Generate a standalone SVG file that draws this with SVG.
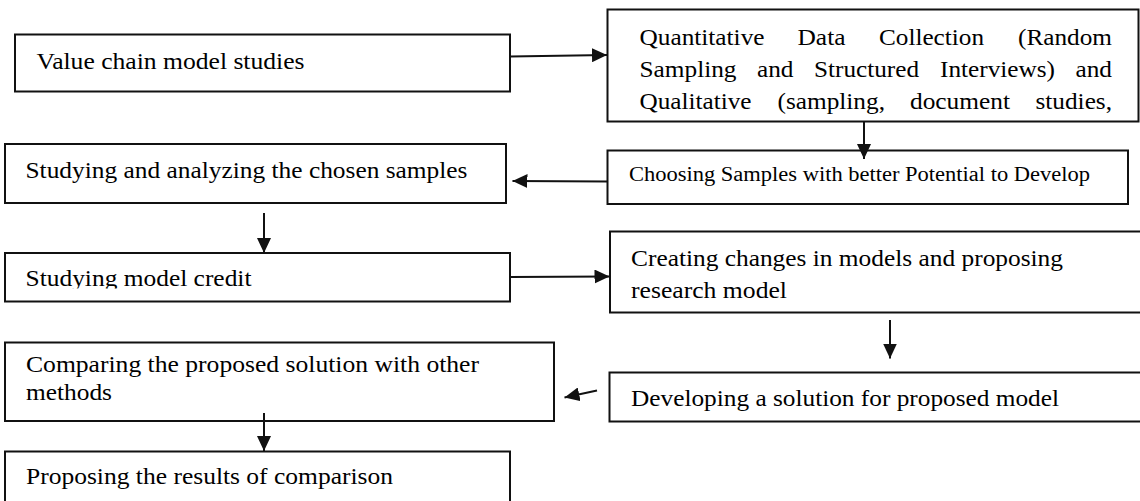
<svg xmlns="http://www.w3.org/2000/svg" width="1140" height="501" viewBox="0 0 1140 501">
<style>
.box{fill:#fff;stroke:#111;stroke-width:2}
.t{font-family:"Liberation Serif","Times New Roman",serif;font-size:23px;fill:#000}
.ts{font-family:"Liberation Serif","Times New Roman",serif;font-size:20px;fill:#000}
.c{stroke:#111;stroke-width:2;fill:none;marker-end:url(#ah)}
</style>
<defs>
<marker id="ah" markerUnits="userSpaceOnUse" markerWidth="16" markerHeight="14" refX="15" refY="7" orient="auto">
<path d="M0,0 L15,7 L0,14 z" fill="#111"/>
</marker>
<clipPath id="clip3"><rect x="0" y="253" width="520" height="35.5"/></clipPath>
</defs>
<rect width="1140" height="501" fill="#fff"/>

<g id="n1">
<rect class="box" x="15" y="34.5" width="495" height="57"/>
<text class="t" x="36.5" y="68.5" textLength="268" lengthAdjust="spacingAndGlyphs">Value chain model studies</text>
</g>

<g id="n2">
<rect class="box" x="607.5" y="9.5" width="531" height="112"/>
<text class="t" y="45">
<tspan x="639.5" textLength="125" lengthAdjust="spacingAndGlyphs">Quantitative</tspan>
<tspan x="797.5" textLength="48" lengthAdjust="spacingAndGlyphs">Data</tspan>
<tspan x="879" textLength="105" lengthAdjust="spacingAndGlyphs">Collection</tspan>
<tspan x="1018" textLength="94" lengthAdjust="spacingAndGlyphs">(Random</tspan>
</text>
<text class="t" y="77">
<tspan x="639.5" textLength="97" lengthAdjust="spacingAndGlyphs">Sampling</tspan>
<tspan x="757" textLength="36.5" lengthAdjust="spacingAndGlyphs">and</tspan>
<tspan x="814" textLength="105" lengthAdjust="spacingAndGlyphs">Structured</tspan>
<tspan x="940" textLength="115" lengthAdjust="spacingAndGlyphs">Interviews)</tspan>
<tspan x="1075.5" textLength="36.5" lengthAdjust="spacingAndGlyphs">and</tspan>
</text>
<text class="t" y="109">
<tspan x="639.5" textLength="112" lengthAdjust="spacingAndGlyphs">Qualitative</tspan>
<tspan x="777.5" textLength="107.5" lengthAdjust="spacingAndGlyphs">(sampling,</tspan>
<tspan x="910" textLength="100" lengthAdjust="spacingAndGlyphs">document</tspan>
<tspan x="1035.5" textLength="76.5" lengthAdjust="spacingAndGlyphs">studies,</tspan>
</text>
</g>

<g id="n3">
<rect class="box" x="607.5" y="150.5" width="520.5" height="53.5"/>
<text class="ts" x="629" y="181" textLength="461" lengthAdjust="spacingAndGlyphs">Choosing Samples with better Potential to Develop</text>
</g>

<g id="n4">
<rect class="box" x="5" y="144" width="501" height="59"/>
<text class="t" x="25.5" y="177.5" textLength="442" lengthAdjust="spacingAndGlyphs">Studying and analyzing the chosen samples</text>
</g>

<g id="n5">
<rect class="box" x="5" y="253" width="505" height="48.5"/>
<text class="t" x="25.5" y="285.5" textLength="226" lengthAdjust="spacingAndGlyphs" clip-path="url(#clip3)">Studying model credit</text>
</g>

<g id="n6">
<rect class="box" x="610" y="231.5" width="540" height="81"/>
<text class="t" x="631" y="266" textLength="432" lengthAdjust="spacingAndGlyphs">Creating changes in models and proposing</text>
<text class="t" x="631" y="297.5" textLength="156" lengthAdjust="spacingAndGlyphs">research model</text>
</g>

<g id="n7">
<rect class="box" x="609.5" y="372.5" width="540" height="49"/>
<text class="t" x="631" y="406" textLength="428" lengthAdjust="spacingAndGlyphs">Developing a solution for proposed model</text>
</g>

<g id="n8">
<rect class="box" x="5" y="342.5" width="549" height="78.5"/>
<text class="t" x="26" y="371.5" textLength="453" lengthAdjust="spacingAndGlyphs">Comparing the proposed solution with other</text>
<text class="t" x="26" y="400" textLength="86" lengthAdjust="spacingAndGlyphs">methods</text>
</g>

<g id="n9">
<rect class="box" x="5" y="451.5" width="505" height="70"/>
<text class="t" x="26" y="484" textLength="367" lengthAdjust="spacingAndGlyphs">Proposing the results of comparison</text>
</g>

<g id="connectors">
<line class="c" x1="510" y1="56.5" x2="607" y2="55"/>
<line class="c" x1="864" y1="121.5" x2="864" y2="159"/>
<line class="c" x1="607.5" y1="181.5" x2="512.5" y2="181"/>
<line class="c" x1="264" y1="213" x2="264" y2="253"/>
<line class="c" x1="510" y1="277" x2="609.5" y2="276.5"/>
<line class="c" x1="890" y1="320" x2="890" y2="358.5"/>
<line class="c" x1="597" y1="390.5" x2="564.5" y2="397.5"/>
<line class="c" x1="264" y1="413" x2="264" y2="451"/>
</g>
</svg>
